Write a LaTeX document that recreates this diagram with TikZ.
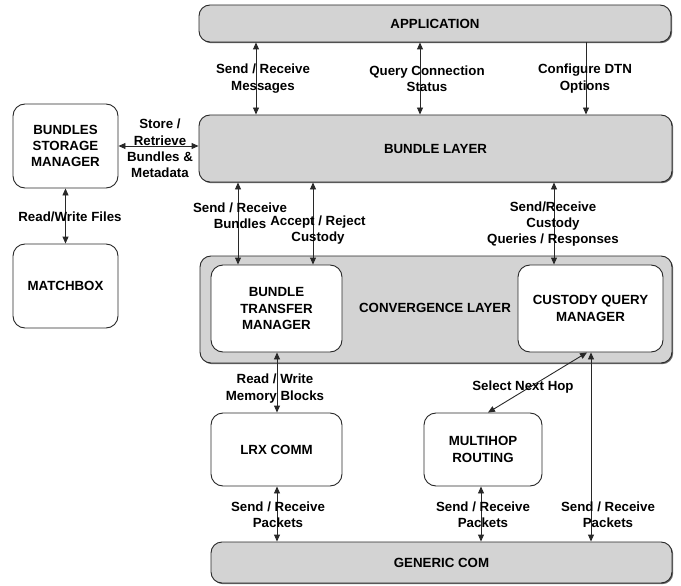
\documentclass[tikz,border=0pt]{standalone}
\usepackage{fontspec}
\setmainfont{Liberation Sans}
\usetikzlibrary{arrows.meta,shadows}
\definecolor{boxgray}{RGB}{211,211,211}
\definecolor{edgecol}{RGB}{40,40,40}
\tikzset{
  every node/.style={font=\fontsize{13.3}{16.4}\selectfont\bfseries, text=black},
  graybox/.style={draw=edgecol, line width=0.9pt, fill=boxgray, rounded corners=11pt,
    inner sep=0pt, drop shadow={shadow xshift=1.2pt, shadow yshift=-1.2pt, fill=black!60, opacity=1}},
  whitebox/.style={draw=edgecol, line width=0.9pt, fill=white, rounded corners=12pt,
    inner sep=0pt, align=center},
  lbl/.style={align=center, inner sep=0pt},
  conn/.style={line width=0.9pt, draw=edgecol, {Triangle[length=7pt,width=6pt]}-{Triangle[length=7pt,width=6pt]}},
  conndown/.style={line width=0.9pt, draw=edgecol, -{Triangle[length=7pt,width=6pt]}},
}
\begin{document}
\begin{tikzpicture}[x=1pt,y=-1pt]
\useasboundingbox (0,0) rectangle (681,586);
% layer boxes
\node[graybox, minimum width=472pt, minimum height=37pt] (app) at (435,23.5) {APPLICATION};
\node[graybox, minimum width=473pt, minimum height=67pt] (bundle) at (435.5,148.5) {BUNDLE LAYER};
\node[graybox, minimum width=472pt, minimum height=107pt] (conv) at (436,309.5) {};
\node[lbl] (convlbl) at (435,308) {CONVERGENCE LAYER};
\node[graybox, minimum width=461pt, minimum height=41pt] (gen) at (441.5,562.5) {GENERIC COM};
% white boxes
\node[whitebox, minimum width=105pt, minimum height=84pt] (bsm) at (65.5,146) {BUNDLES\\STORAGE\\MANAGER};
\node[whitebox, minimum width=105pt, minimum height=84pt] (mbox) at (65.5,286) {MATCHBOX};
\node[whitebox, minimum width=131pt, minimum height=87pt] (btm) at (276.5,308.5) {BUNDLE\\TRANSFER\\MANAGER};
\node[whitebox, minimum width=145pt, minimum height=87pt] (cqm) at (590.5,308.5) {CUSTODY QUERY\\MANAGER};
\node[whitebox, minimum width=131pt, minimum height=73pt] (lrx) at (276.5,449.5) {LRX COMM};
\node[whitebox, minimum width=118pt, minimum height=73pt] (mh) at (483,449.5) {MULTIHOP\\ROUTING};
% connectors
\draw[conn] (app.south -| 256,0) -- (bundle.north -| 256,0);
\draw[conn] (app.south -| 420,0) -- (bundle.north -| 420,0);
\draw[conndown] (app.south -| 586,0) -- (bundle.north -| 586,0);
\draw[conn] (bsm.east) -- (bsm.east -| bundle.west);
\draw[conn] (bsm.south) -- (mbox.north);
\draw[conn] (bundle.south -| 238,0) -- (btm.north -| 238,0);
\draw[conn] (bundle.south -| 313,0) -- (btm.north -| 313,0);
\draw[conn] (bundle.south -| 554,0) -- (cqm.north -| 554,0);
\draw[conn] (btm.south -| 277,0) -- (lrx.north -| 277,0);
\draw[conn] (cqm.south -| 587,0) -- (mh.north -| 488,0);
\draw[conn] (cqm.south -| 591,0) -- (gen.north -| 591,0);
\draw[conn] (lrx.south -| 277,0) -- (gen.north -| 277,0);
\draw[conn] (mh.south -| 481,0) -- (gen.north -| 481,0);
% labels
\node[lbl] (l1) at (263,78.5) {Send / Receive\\Messages};
\node[lbl] (l2) at (427,78.5) {Query Connection\\Status};
\node[lbl] (l3) at (585,78.5) {Configure DTN\\Options};
\node[lbl] (l4) at (160,148.5) {Store /\\Retrieve\\Bundles \&\\Metadata};
\node[lbl] (l5) at (70,217) {Read/Write Files};
\node[lbl] (l6) at (240,215.5) {Send / Receive\\Bundles};
\node[lbl] (l7) at (318,230) {Accept / Reject\\Custody};
\node[lbl] (l8) at (553,224) {Send/Receive\\Custody\\Queries / Responses};
\node[lbl] (l9) at (275,388.5) {Read / Write\\Memory Blocks};
\node[lbl] (l10) at (523,387) {Select Next Hop};
\node[lbl] (l11) at (278,515) {Send / Receive\\Packets};
\node[lbl] (l12) at (483,515) {Send / Receive\\Packets};
\node[lbl] (l13) at (608,515) {Send / Receive\\Packets};
\end{tikzpicture}
\end{document}
